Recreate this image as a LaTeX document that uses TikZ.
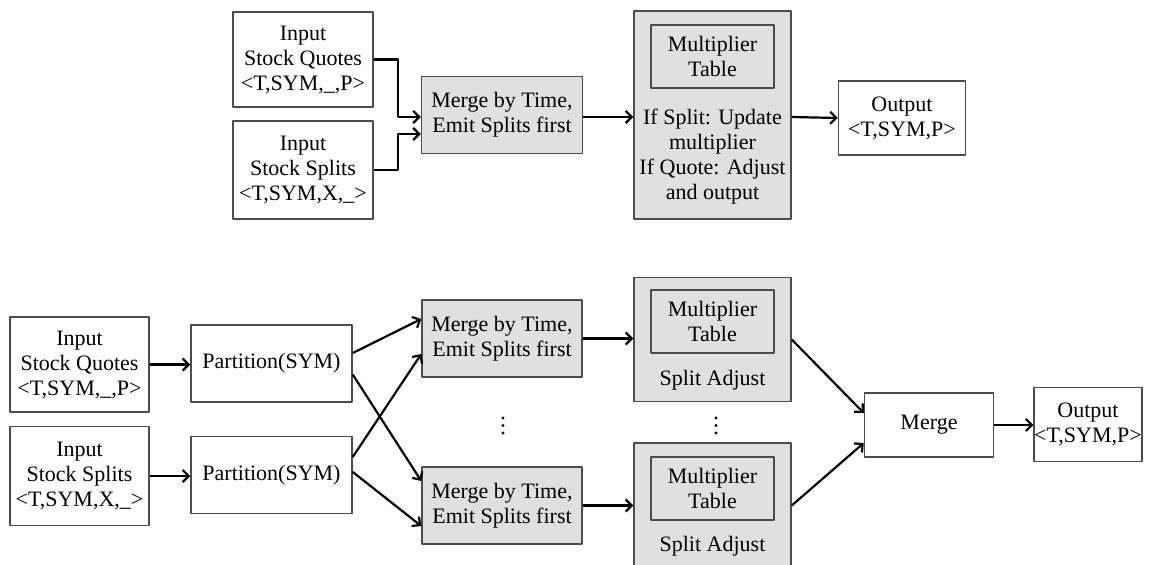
\documentclass[tikz,border=0pt]{standalone}
\usepackage{fontspec}
\setmainfont{Liberation Serif}
\usetikzlibrary{arrows.meta}
\begin{document}
\begin{tikzpicture}[x=1pt,y=-1pt,>={Straight Barb[length=6pt,width=12pt]},line join=round,
	font=\fontsize{22}{25}\selectfont,
	wbox/.style={draw=black!70,line width=1.5pt,fill=white,align=center,inner sep=0pt},
	gbox/.style={wbox,fill=black!12},
	arr/.style={->,line width=2.2pt}]
	\useasboundingbox (0,0) rectangle (1152,565);
	
	% upper picture
	\node[wbox,minimum width=140,minimum height=95] (qin) at (303,59.5) {Input\\Stock Quotes\\<T,SYM,\_,P>};
	\node[wbox,minimum width=140,minimum height=98] (sin) at (303,170) {Input\\Stock Splits\\<T,SYM,X,\_>};
	\node[gbox,minimum width=161,minimum height=77] (mtop) at (502,115) {Merge by Time,\\Emit Splits first};
	\node[gbox,minimum width=157,minimum height=208] (big) at (712.5,115) {};
	\node[gbox,minimum width=123,minimum height=63] (tab) at (712.5,56.5) {Multiplier\\Table};
	\node[align=center,inner sep=0pt] (rule) at (712.5,157) {If Split: Update\\multiplier\\If Quote: Adjust\\and output};
	\node[wbox,minimum width=127,minimum height=74] (otop) at (902,118) {Output\\<T,SYM,P>};
	
	\draw[arr] (qin.east) -- ++(24,0) |- ([yshift=-2pt]mtop.west);
	\draw[arr] (sin.east) -- ++(24,0) |- ([yshift=-19pt]mtop.west);
	\draw[arr] ([yshift=-2pt]mtop.east) -- ([yshift=-2pt]mtop.east -| big.west);
	\draw[arr] ([yshift=-2pt]big.east) -- (otop.west);
	
	% lower picture
	\node[wbox,minimum width=139,minimum height=95] (qin2) at (79.5,364.5) {Input\\Stock Quotes\\<T,SYM,\_,P>};
	\node[wbox,minimum width=139,minimum height=99] (sin2) at (79.5,476) {Input\\Stock Splits\\<T,SYM,X,\_>};
	\node[wbox,minimum width=161,minimum height=77] (p1) at (271.5,363.5) {Partition(SYM)};
	\node[wbox,minimum width=161,minimum height=77] (p2) at (271.5,475) {Partition(SYM)};
	\node[gbox,minimum width=160,minimum height=77] (m1) at (502,338.5) {Merge by Time,\\Emit Splits first};
	\node[gbox,minimum width=160,minimum height=77] (m2) at (502,505.5) {Merge by Time,\\Emit Splits first};
	\node[gbox,minimum width=157,minimum height=124] (sa1) at (712.5,339.5) {};
	\node[gbox,minimum width=123,minimum height=63] (t1) at (712.5,321.5) {Multiplier\\Table};
	\node[inner sep=0pt] (l1) at (712.5,380) {Split Adjust};
	\node[gbox,minimum width=157,minimum height=125] (sa2) at (712.5,505.5) {};
	\node[gbox,minimum width=123,minimum height=63] (t2) at (712.5,488.5) {Multiplier\\Table};
	\node[inner sep=0pt] (l2) at (712.5,546) {Split Adjust};
	\node[wbox,minimum width=129,minimum height=64] (fm) at (929,425) {Merge};
	\node[wbox,minimum width=106,minimum height=74] (out2) at (1088,424.5) {Output\\<T,SYM,P>};
	\foreach \y in {418,425.5,433} {
		\fill (503,\y) circle (1.7);
		\fill (716,\y) circle (1.7);
	}
	
	\draw[arr] (qin2.east) -- (qin2.east -| p1.west);
	\draw[arr] (sin2.east) -- (sin2.east -| p2.west);
	\draw[arr] ([yshift=10.5pt]p1.east) -- ([yshift=19.5pt]m1.west);
	\draw[arr] ([yshift=-11pt]p1.east) -- ([yshift=24.5pt]m2.west);
	\draw[arr] ([yshift=18pt]p2.east) -- ([yshift=-15.5pt]m1.west);
	\draw[arr] ([yshift=3pt]p2.east) -- ([yshift=-20.5pt]m2.west);
	\draw[arr] (m1.east) -- (m1.east -| sa1.west);
	\draw[arr] (m2.east) -- (m2.east -| sa2.west);
	\draw[arr] (sa1.east) -- ([yshift=12pt]fm.west);
	\draw[arr] (sa2.east) -- ([yshift=-18pt]fm.west);
	\draw[arr] (fm.east) -- (fm.east -| out2.west);
\end{tikzpicture}
\end{document}
